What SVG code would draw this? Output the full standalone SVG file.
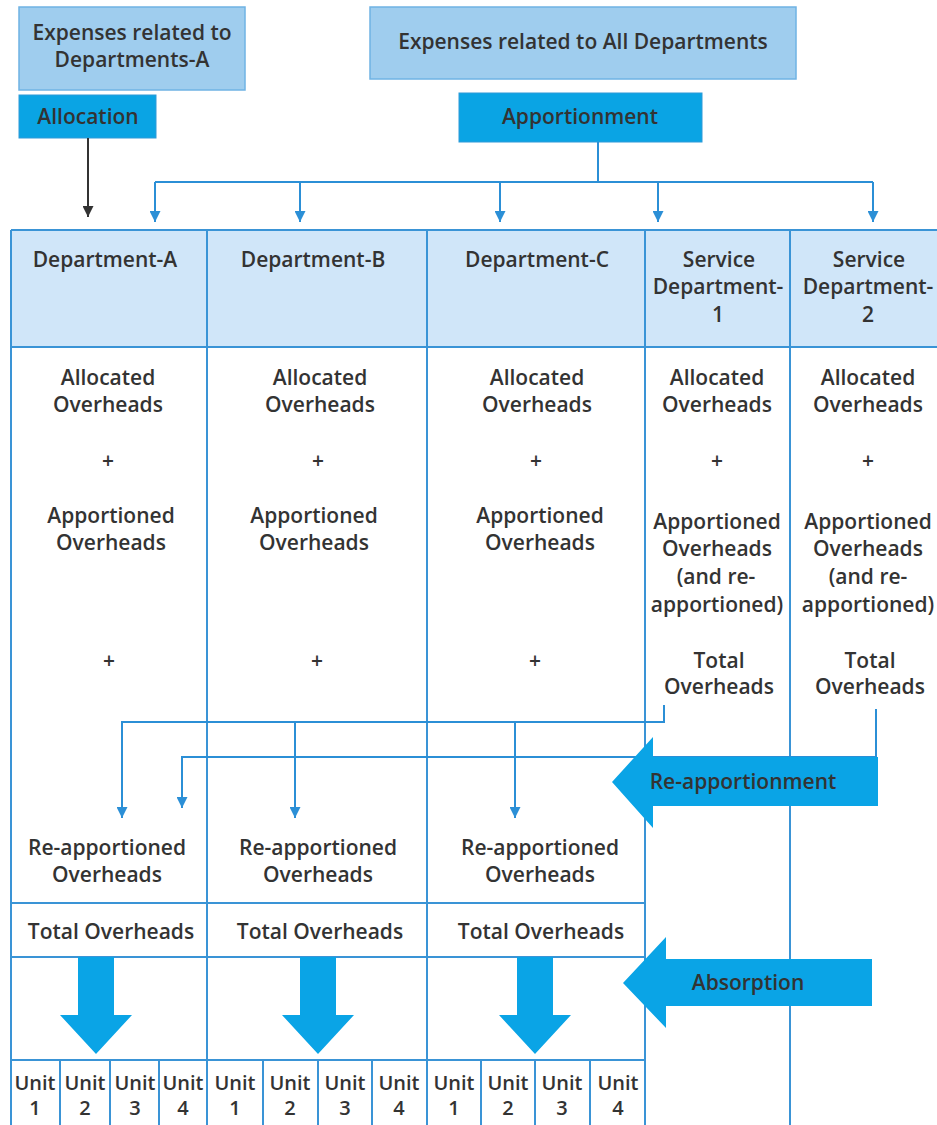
<svg xmlns="http://www.w3.org/2000/svg" width="937" height="1125" viewBox="0 0 937 1125">
<style>
text{font-family:"Open Sans","Noto Sans","Liberation Sans",sans-serif;font-size:21px;font-weight:600;fill:#333;text-anchor:middle}
.u{font-size:20px}
.box{fill:#9fcdee;stroke:#6fb3e4;stroke-width:1.5}
.act{fill:#0aa4e4;stroke:#2e9ad8;stroke-width:1}
.grid{stroke:#3a94d6;stroke-width:2;fill:none}
.con{stroke:#2b8fd6;stroke-width:2;fill:none}
.big{fill:#0aa4e6}
</style>
<defs>
<marker id="ab" viewBox="0 0 10 10" refX="10" refY="5" markerWidth="11" markerHeight="11" markerUnits="userSpaceOnUse" orient="auto"><path d="M0,0 L10,5 L0,10 z" fill="#2b8fd6"/></marker>
<marker id="ak" viewBox="0 0 10 10" refX="10" refY="5" markerWidth="11" markerHeight="11" markerUnits="userSpaceOnUse" orient="auto"><path d="M0,0 L10,5 L0,10 z" fill="#333"/></marker>
</defs>
<rect width="937" height="1125" fill="#fff"/>

<g id="exp-a"><rect class="box" x="19" y="7" width="226" height="83"/><text x="132" y="40">Expenses related to</text><text x="132" y="67">Departments-A</text></g>
<g id="allocation"><rect class="act" x="19" y="95" width="137" height="43"/><text x="88" y="124">Allocation</text></g>
<g id="exp-all"><rect class="box" x="370" y="7" width="426" height="72"/><text x="583" y="49">Expenses related to All Departments</text></g>
<g id="apportionment"><rect class="act" x="459" y="93" width="243" height="49"/><text x="580" y="124">Apportionment</text></g>

<g id="table">
<rect x="11" y="230" width="940" height="117" fill="#d0e6f9"/>
<path class="grid" d="M11,230 H945 M11,347 H945 M11,903 H645 M11,957 H645 M11,1060 H645 M11,230 V1125 M207,230 V1125 M427,230 V1125 M645,230 V1125 M790,230 V1125 M60,1060 V1125 M110,1060 V1125 M159,1060 V1125 M263,1060 V1125 M318,1060 V1125 M372,1060 V1125 M481,1060 V1125 M535,1060 V1125 M590,1060 V1125"/>
</g>

<g id="dept-a">
<text x="105" y="267">Department-A</text>
<text x="108" y="385">Allocated</text><text x="108" y="412">Overheads</text>
<text x="108" y="468">+</text>
<text x="111" y="523">Apportioned</text><text x="111" y="550">Overheads</text>
<text x="109" y="668">+</text>
<text x="107" y="855">Re-apportioned</text><text x="107" y="882">Overheads</text>
<text x="111" y="939">Total Overheads</text>
<text class="u" x="35" y="1090">Unit</text><text class="u" x="35" y="1115">1</text>
<text class="u" x="85" y="1090">Unit</text><text class="u" x="85" y="1115">2</text>
<text class="u" x="135" y="1090">Unit</text><text class="u" x="135" y="1115">3</text>
<text class="u" x="183" y="1090">Unit</text><text class="u" x="183" y="1115">4</text>
</g>
<g id="dept-b">
<text x="313" y="267">Department-B</text>
<text x="320" y="385">Allocated</text><text x="320" y="412">Overheads</text>
<text x="318" y="468">+</text>
<text x="314" y="523">Apportioned</text><text x="314" y="550">Overheads</text>
<text x="317" y="668">+</text>
<text x="318" y="855">Re-apportioned</text><text x="318" y="882">Overheads</text>
<text x="320" y="939">Total Overheads</text>
<text class="u" x="235" y="1090">Unit</text><text class="u" x="235" y="1115">1</text>
<text class="u" x="290" y="1090">Unit</text><text class="u" x="290" y="1115">2</text>
<text class="u" x="345" y="1090">Unit</text><text class="u" x="345" y="1115">3</text>
<text class="u" x="399" y="1090">Unit</text><text class="u" x="399" y="1115">4</text>
</g>
<g id="dept-c">
<text x="537" y="267">Department-C</text>
<text x="537" y="385">Allocated</text><text x="537" y="412">Overheads</text>
<text x="536" y="468">+</text>
<text x="540" y="523">Apportioned</text><text x="540" y="550">Overheads</text>
<text x="535" y="668">+</text>
<text x="540" y="855">Re-apportioned</text><text x="540" y="882">Overheads</text>
<text x="541" y="939">Total Overheads</text>
<text class="u" x="454" y="1090">Unit</text><text class="u" x="454" y="1115">1</text>
<text class="u" x="508" y="1090">Unit</text><text class="u" x="508" y="1115">2</text>
<text class="u" x="562" y="1090">Unit</text><text class="u" x="562" y="1115">3</text>
<text class="u" x="618" y="1090">Unit</text><text class="u" x="618" y="1115">4</text>
</g>
<g id="service-1">
<text x="719" y="267">Service</text><text x="718" y="294">Department-</text><text x="718" y="322">1</text>
<text x="717" y="385">Allocated</text><text x="717" y="412">Overheads</text>
<text x="717" y="468">+</text>
<text x="717" y="529">Apportioned</text><text x="717" y="556">Overheads</text><text x="716" y="584">(and re-</text><text x="717" y="612">apportioned)</text>
<text x="719" y="668">Total</text><text x="719" y="694">Overheads</text>
</g>
<g id="service-2">
<text x="869" y="267">Service</text><text x="868" y="294">Department-</text><text x="868" y="322">2</text>
<text x="868" y="385">Allocated</text><text x="868" y="412">Overheads</text>
<text x="868" y="468">+</text>
<text x="868" y="529">Apportioned</text><text x="868" y="556">Overheads</text><text x="868" y="584">(and re-</text><text x="868" y="612">apportioned)</text>
<text x="870" y="668">Total</text><text x="870" y="694">Overheads</text>
</g>

<g id="connectors">
<path d="M88,138 V217" stroke="#333" stroke-width="2" fill="none" marker-end="url(#ak)"/>
<path class="con" d="M598,142 V182 M155,182 H873"/>
<path class="con" d="M155,182 V222" marker-end="url(#ab)"/>
<path class="con" d="M300,182 V222" marker-end="url(#ab)"/>
<path class="con" d="M500,182 V222" marker-end="url(#ab)"/>
<path class="con" d="M658,182 V222" marker-end="url(#ab)"/>
<path class="con" d="M873,182 V222" marker-end="url(#ab)"/>
<path class="con" d="M664,705 V722 H122 V818" marker-end="url(#ab)"/>
<path class="con" d="M295,722 V818" marker-end="url(#ab)"/>
<path class="con" d="M515,722 V818" marker-end="url(#ab)"/>
<path class="con" d="M876,709 V757 H182 V808" marker-end="url(#ab)"/>
</g>

<g id="re-apportionment">
<polygon class="big" points="878,757 653,757 653,737 612,782 653,828 653,806 878,806"/>
<text x="743" y="789">Re-apportionment</text>
</g>
<g id="absorption">
<polygon class="big" points="872,959 666,959 666,937 623,983 666,1028 666,1006 872,1006"/>
<text x="748" y="990">Absorption</text>
</g>
<g id="absorb-arrows">
<polygon class="big" points="78,957 114,957 114,1015 132,1015 96,1054 60,1015 78,1015"/>
<polygon class="big" points="300,957 336,957 336,1015 354,1015 318,1054 282,1015 300,1015"/>
<polygon class="big" points="517,957 553,957 553,1015 571,1015 535,1054 499,1015 517,1015"/>
</g>
</svg>
